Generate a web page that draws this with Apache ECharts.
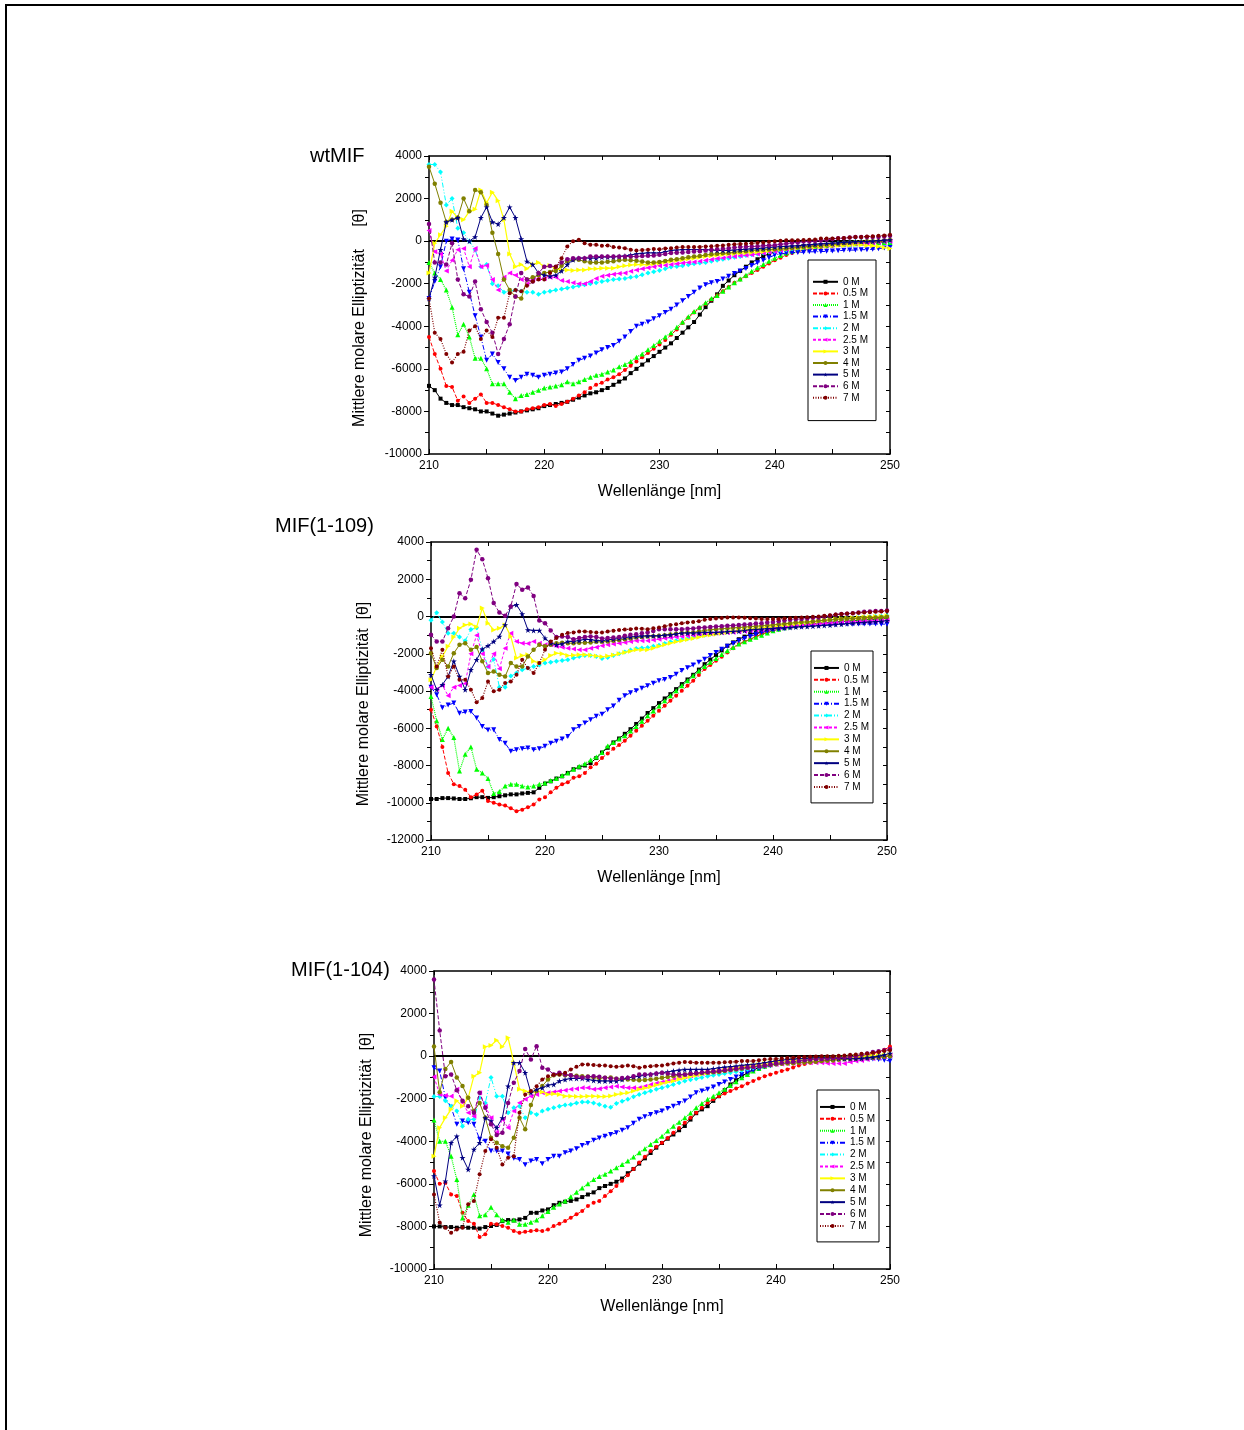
<!DOCTYPE html>
<html><head><meta charset="utf-8">
<script src="https://cdn.jsdelivr.net/npm/echarts@6/dist/echarts.min.js"></script>
<style>html,body{margin:0;padding:0;background:#fff}#c{width:1244px;height:1430px}</style>
</head><body><div id="c"></div>
<script>
const wavelengths = [210,210.5,211,211.5,212,212.5,213,213.5,214,214.5,215,215.5,216,216.5,217,217.5,218,218.5,219,219.5,220,220.5,221,221.5,222,222.5,223,223.5,224,224.5,225,225.5,226,226.5,227,227.5,228,228.5,229,229.5,230,230.5,231,231.5,232,232.5,233,233.5,234,234.5,235,235.5,236,236.5,237,237.5,238,238.5,239,239.5,240,240.5,241,241.5,242,242.5,243,243.5,244,244.5,245,245.5,246,246.5,247,247.5,248,248.5,249,249.5,250];
const concLabels = ['0 M','0.5 M','1 M','1.5 M','2 M','2.5 M','3 M','4 M','5 M','6 M','7 M'];
const panelTitles = ['wtMIF','MIF(1-109)','MIF(1-104)'];
const xAxisName = 'Wellenlänge [nm]';
const yAxisNames = ['Mittlere molare Elliptizität     [θ]','Mittlere molare Elliptizität  [θ]','Mittlere molare Elliptizität  [θ]'];
const yMins = [-10000,-12000,-10000];
const yMax = 4000;

// ---- wtMIF ----
const wt_0M = [-6800,-7000,-7400,-7600,-7700,-7700,-7800,-7850,-7900,-8000,
-8000,-8100,-8200,-8150,-8100,-8050,-8000,-7950,-7900,-7850,
-7750,-7700,-7650,-7600,-7550,-7450,-7350,-7250,-7150,-7100,
-7000,-6900,-6750,-6600,-6450,-6200,-6000,-5800,-5600,-5400,
-5200,-5000,-4800,-4550,-4300,-4050,-3800,-3450,-3100,-2800,
-2500,-2100,-1850,-1600,-1400,-1200,-1000,-850,-700,-600,
-500,-420,-360,-310,-270,-240,-220,-200,-190,-180,
-170,-150,-140,-120,-110,-90,-80,-60,-50,-30,
-20];
const wt_05M = [-4500,-5300,-6000,-6800,-6850,-7500,-7300,-7600,-7400,-7200,
-7600,-7600,-7700,-7800,-7900,-8000,-8000,-7900,-7850,-7800,
-7700,-7650,-7750,-7650,-7550,-7400,-7250,-7100,-6900,-6750,
-6650,-6500,-6400,-6250,-6050,-5850,-5650,-5450,-5250,-5050,
-4850,-4650,-4400,-4150,-3850,-3600,-3350,-3150,-2950,-2750,
-2550,-2350,-2150,-1950,-1800,-1650,-1500,-1350,-1200,-1050,
-900,-780,-650,-560,-490,-430,-380,-330,-280,-250,
-220,-190,-160,-130,-100,-80,-50,-30,-10,0,
20];
const wt_1M = [-1000,-1500,-1800,-2300,-3100,-4400,-3900,-4500,-5500,-5500,
-6000,-6700,-6700,-6700,-7100,-7400,-7250,-7200,-7100,-7000,
-6900,-6850,-6800,-6750,-6600,-6700,-6600,-6500,-6400,-6300,
-6250,-6150,-6050,-5900,-5800,-5650,-5450,-5300,-5100,-4900,
-4700,-4500,-4300,-4050,-3800,-3550,-3300,-3100,-2900,-2700,
-2550,-2350,-2150,-1950,-1780,-1600,-1420,-1250,-1100,-950,
-800,-680,-560,-470,-400,-340,-280,-250,-220,-190,
-170,-150,-140,-130,-120,-100,-100,-80,-70,-60,
-60];
const wt_15M = [-2700,-1900,-1200,0,100,50,-1300,-2400,-3500,-4500,
-5600,-5300,-5700,-6000,-6400,-6550,-6400,-6250,-6300,-6400,
-6300,-6250,-6200,-6150,-6000,-5800,-5600,-5500,-5400,-5250,
-5100,-5000,-4900,-4700,-4500,-4250,-4000,-3900,-3800,-3650,
-3500,-3350,-3200,-3000,-2800,-2600,-2400,-2200,-2050,-1950,
-1900,-1780,-1650,-1520,-1400,-1280,-1150,-1020,-900,-780,
-650,-600,-560,-540,-530,-520,-500,-500,-490,-480,
-460,-450,-430,-420,-420,-400,-400,-380,-360,-320,
-300];
const wt_2M = [3600,3600,3250,1700,2000,600,400,0,-400,-1200,
-1100,-2000,-2100,-2400,-2350,-2300,-2350,-2400,-2400,-2500,
-2400,-2350,-2300,-2250,-2200,-2150,-2100,-2050,-2000,-1950,
-1900,-1850,-1800,-1780,-1750,-1700,-1660,-1580,-1500,-1440,
-1380,-1300,-1220,-1190,-1160,-1110,-1060,-1030,-1000,-950,
-900,-850,-800,-760,-720,-680,-640,-600,-560,-520,
-490,-440,-400,-360,-330,-300,-280,-250,-220,-170,
-130,-100,-70,-50,-20,-20,-20,-10,0,0,
0];
const wt_25M = [500,-500,-600,-1400,-900,-400,-350,-1200,-350,-1200,
-1150,-1800,-2300,-1700,-1500,-1600,-1800,-2000,-1800,-1750,
-1750,-1700,-1700,-1850,-1900,-1950,-2000,-2000,-1900,-1750,
-1650,-1600,-1550,-1520,-1500,-1420,-1350,-1300,-1250,-1200,
-1160,-1130,-1100,-1060,-1030,-1000,-980,-950,-900,-860,
-820,-790,-750,-720,-690,-660,-640,-600,-560,-520,
-490,-430,-380,-330,-290,-270,-250,-230,-210,-190,
-170,-160,-150,-130,-120,-110,-100,-80,-50,-30,
0];
const wt_3M = [-1500,-100,300,700,1400,1100,1000,1400,1500,2400,
1800,2300,1900,1000,-600,-1200,-1100,-1300,-1100,-1000,
-1200,-1150,-1300,-1350,-1350,-1380,-1350,-1350,-1300,-1300,
-1270,-1270,-1270,-1200,-1160,-1120,-1100,-1100,-1100,-1060,
-1030,-990,-950,-910,-880,-840,-800,-760,-720,-690,
-660,-630,-600,-580,-560,-540,-530,-510,-490,-450,
-400,-380,-370,-350,-330,-310,-290,-270,-250,-230,
-200,-200,-200,-180,-150,-170,-200,-220,-250,-300,
-350];
const wt_4M = [3500,2700,1800,900,1000,1100,2000,1400,2400,2300,
1700,400,-600,-1800,-2300,-2600,-2700,-1800,-1700,-1600,
-1500,-1450,-1400,-1160,-950,-880,-880,-950,-1000,-1000,
-1000,-970,-950,-900,-880,-900,-920,-960,-1000,-1000,
-980,-930,-880,-850,-800,-760,-720,-700,-650,-620,
-590,-570,-560,-520,-490,-470,-440,-420,-400,-390,
-380,-360,-350,-320,-300,-270,-250,-220,-200,-170,
-150,-120,-100,-80,-50,-30,0,0,0,30,
50];
const wt_5M = [-2700,-1700,-400,900,1000,1100,100,0,200,1100,
1600,900,800,1100,1600,1100,100,-950,-1100,-1500,
-1600,-1650,-1600,-1400,-1100,-880,-800,-800,-800,-800,
-750,-750,-750,-720,-700,-650,-600,-580,-550,-560,
-560,-500,-440,-420,-400,-400,-400,-400,-400,-420,
-440,-440,-440,-420,-400,-380,-370,-350,-330,-300,
-280,-260,-250,-230,-220,-190,-170,-150,-130,-110,
-100,-80,-60,-50,-30,-20,-20,0,20,40,
60];
const wt_6M = [800,-1000,-1000,-1100,-100,-1800,-2500,-2600,-1900,-3200,
-3800,-4300,-5300,-4600,-3900,-2600,-1500,-1800,-1900,-1500,
-1200,-1170,-1200,-1000,-850,-800,-800,-800,-720,-720,
-720,-720,-720,-720,-720,-720,-720,-700,-690,-670,
-640,-600,-560,-540,-530,-510,-490,-470,-440,-410,
-380,-360,-330,-300,-280,-260,-250,-240,-220,-200,
-190,-150,-120,-80,-60,-20,-20,10,30,60,
100,140,140,170,190,190,190,200,200,220,
250];
const wt_7M = [-2700,-4300,-4600,-5300,-5700,-5300,-5200,-4200,-4000,-4600,
-4200,-4500,-3600,-3600,-2450,-2300,-2350,-2100,-1900,-1800,
-1800,-1500,-1200,-800,-250,0,60,-100,-170,-170,
-220,-200,-280,-300,-330,-400,-440,-420,-400,-370,
-380,-350,-330,-300,-280,-280,-280,-270,-250,-240,
-220,-200,-170,-150,-130,-120,-100,-80,-60,-30,
0,20,40,40,40,50,60,80,120,120,
130,140,150,170,190,200,220,230,250,270,
300];

// ---- MIF(1-109) ----
const m109_0M = [-9800,-9800,-9750,-9750,-9770,-9800,-9800,-9760,-9700,-9700,
-9740,-9700,-9650,-9600,-9550,-9550,-9500,-9470,-9440,-9200,
-8970,-8850,-8700,-8580,-8400,-8200,-8100,-8000,-7870,-7600,
-7300,-7050,-6760,-6550,-6300,-6050,-5770,-5480,-5180,-4920,
-4650,-4400,-4170,-3900,-3630,-3380,-3130,-2850,-2560,-2310,
-2070,-1820,-1570,-1390,-1220,-1080,-950,-880,-820,-750,
-680,-610,-550,-520,-500,-460,-430,-400,-360,-340,
-320,-290,-270,-250,-230,-200,-180,-160,-140,-120,
-110];
const m109_05M = [-5000,-5900,-7000,-8400,-9000,-9100,-9300,-9700,-9560,-9350,
-9900,-10000,-10100,-10150,-10300,-10450,-10370,-10240,-10100,-9830,
-9700,-9440,-9200,-9000,-8900,-8660,-8580,-8400,-8100,-7900,
-7600,-7350,-7100,-6900,-6670,-6400,-6130,-5870,-5600,-5330,
-5060,-4790,-4520,-4250,-3990,-3720,-3450,-3140,-2820,-2600,
-2380,-2160,-1930,-1700,-1480,-1350,-1220,-1080,-950,-860,
-770,-680,-590,-540,-500,-450,-410,-390,-360,-340,
-320,-280,-250,-220,-190,-160,-140,-120,-100,-80,
-70];
const m109_1M = [-4300,-5600,-6600,-6000,-6500,-8300,-7400,-7000,-8200,-8400,
-8700,-9500,-9400,-9100,-9000,-9000,-9100,-9150,-9100,-9000,
-8940,-8800,-8700,-8540,-8400,-8200,-8040,-7900,-7700,-7540,
-7300,-6950,-6760,-6580,-6400,-6150,-5900,-5620,-5330,-5070,
-4800,-4520,-4250,-3990,-3720,-3450,-3180,-2930,-2680,-2460,
-2250,-2040,-1840,-1660,-1480,-1350,-1220,-1110,-1000,-880,
-770,-680,-600,-550,-500,-460,-430,-400,-370,-340,
-320,-300,-270,-250,-220,-200,-180,-160,-130,-110,
-90];
const m109_15M = [-3800,-4200,-4900,-4750,-4650,-5200,-5130,-5100,-5450,-5900,
-6100,-6080,-6600,-6800,-7240,-7150,-7100,-7060,-7150,-7100,
-6970,-6800,-6700,-6580,-6440,-6080,-5900,-5720,-5540,-5360,
-5250,-5000,-4800,-4500,-4250,-4100,-3990,-3850,-3720,-3590,
-3450,-3380,-3270,-3100,-2900,-2750,-2600,-2450,-2290,-2100,
-1930,-1760,-1600,-1450,-1300,-1180,-1070,-960,-860,-790,
-720,-680,-640,-590,-540,-520,-500,-480,-460,-460,
-460,-440,-420,-420,-420,-400,-400,-400,-400,-410,
-410];
const m109_2M = [-200,200,-300,-900,-900,-1100,-1300,-700,-600,-1800,
-2700,-2300,-3800,-3800,-3200,-3040,-2860,-2770,-2680,-2600,
-2500,-2450,-2400,-2360,-2320,-2230,-2150,-2100,-2100,-2150,
-2250,-2200,-2100,-2000,-1900,-1800,-1720,-1690,-1660,-1600,
-1540,-1450,-1360,-1300,-1250,-1190,-1130,-1060,-1000,-950,
-890,-850,-820,-790,-770,-720,-680,-640,-620,-600,
-590,-540,-500,-450,-410,-380,-350,-310,-280,-240,
-210,-180,-150,-120,-100,-70,-50,-20,0,20,
40];
const m109_25M = [-3800,-3900,-3700,-4250,-3800,-3700,-3600,-2000,-1000,-2000,
-2700,-2000,-2800,-1700,-900,-1340,-1430,-1450,-1340,-1430,
-1520,-1520,-1600,-1650,-1700,-1750,-1790,-1790,-1700,-1650,
-1570,-1520,-1480,-1430,-1390,-1340,-1300,-1300,-1300,-1260,
-1220,-1170,-1130,-1100,-1070,-1030,-1000,-970,-950,-920,
-890,-870,-860,-840,-820,-790,-770,-740,-720,-680,
-640,-600,-570,-540,-500,-480,-460,-430,-410,-380,
-360,-340,-320,-300,-290,-270,-250,-240,-220,-200,
-180];
const m109_3M = [-3400,-2700,-2150,-1600,-1100,-630,-450,-400,-570,450,
-360,-720,-630,-450,-1070,-2230,-2100,-2060,-2400,-2500,
-2320,-2100,-1970,-2000,-2100,-2080,-2050,-2050,-2080,-2120,
-2160,-2120,-2070,-2000,-1930,-1860,-1790,-1790,-1790,-1700,
-1600,-1520,-1430,-1360,-1300,-1240,-1180,-1110,-1040,-990,
-950,-900,-860,-810,-770,-720,-680,-640,-610,-570,
-540,-500,-460,-430,-390,-360,-320,-290,-250,-220,
-180,-140,-110,-90,-70,-50,-30,-10,0,20,
40];
const m109_4M = [-1970,-2770,-2320,-2680,-1970,-1520,-1430,-1790,-1640,-2400,
-3040,-2950,-3130,-3220,-2500,-2680,-2680,-2150,-1790,-1520,
-1600,-1520,-1430,-1410,-1430,-1430,-1410,-1410,-1390,-1360,
-1360,-1340,-1300,-1260,-1220,-1180,-1130,-1100,-1070,-1060,
-1040,-1000,-970,-930,-890,-860,-860,-800,-750,-710,
-680,-660,-640,-610,-590,-570,-540,-520,-500,-480,
-450,-420,-390,-360,-320,-300,-290,-270,-230,-200,
-180,-150,-140,-120,-110,-90,-70,-50,-50,-40,
-20];
const m109_5M = [-3130,-3930,-3660,-3220,-2400,-3220,-3930,-2860,-2320,-1750,
-1570,-1340,-1070,-450,540,630,140,-720,-750,-750,
-1160,-1430,-1520,-1470,-1340,-1340,-1290,-1220,-1250,-1290,
-1300,-1250,-1220,-1180,-1130,-1100,-1070,-1050,-1040,-1040,
-1040,-1000,-990,-940,-890,-890,-890,-880,-860,-860,
-860,-840,-820,-800,-790,-750,-720,-700,-680,-660,
-640,-620,-610,-590,-570,-550,-540,-520,-500,-480,
-460,-430,-410,-380,-360,-330,-320,-300,-280,-260,
-230];
const m109_6M = [-980,-1340,-1340,-630,0,1250,980,1970,3580,3070,
2060,720,210,40,540,1750,1430,1560,1100,-210,
-360,-750,-1100,-1070,-1100,-1220,-1160,-1100,-1070,-1100,
-1180,-1150,-1130,-1100,-1040,-980,-950,-900,-860,-780,
-680,-680,-680,-680,-680,-660,-640,-610,-590,-560,
-540,-520,-500,-480,-460,-430,-410,-380,-360,-320,
-290,-250,-220,-180,-150,-130,-110,-70,-50,0,
40,100,130,150,180,220,250,270,290,300,
320];
const m109_7M = [-1700,-2680,-1790,-3220,-2680,-3400,-3400,-3930,-4600,-4380,
-3490,-4020,-3930,-3570,-3490,-3130,-2320,-2770,-3040,-2500,
-1790,-1340,-1160,-980,-890,-860,-800,-800,-830,-860,
-860,-800,-770,-720,-700,-680,-640,-660,-680,-630,
-590,-520,-460,-410,-360,-320,-290,-250,-180,-140,
-110,-80,-50,-50,-50,-70,-90,-110,-140,-140,
-140,-130,-110,-90,-70,-50,-40,-20,0,40,
70,110,130,160,180,200,210,230,250,270,
290];

// ---- MIF(1-104) ----
const m104_0M = [-8000,-8000,-8030,-8030,-8060,-8030,-8060,-8060,-8100,-8030,
-7980,-7930,-7750,-7700,-7720,-7670,-7600,-7360,-7360,-7250,
-7200,-7000,-6890,-6840,-6800,-6730,-6620,-6500,-6400,-6200,
-6100,-6000,-5900,-5750,-5500,-5300,-5050,-4800,-4550,-4300,
-4080,-3880,-3680,-3480,-3280,-2980,-2680,-2500,-2350,-2100,
-1880,-1600,-1330,-1130,-940,-780,-630,-550,-470,-400,
-340,-280,-230,-190,-160,-120,-90,-80,-80,-70,
-60,-60,-50,-50,-50,-40,-30,-20,0,10,
30];
const m104_05M = [-5400,-6000,-5950,-6500,-6570,-7360,-7750,-7870,-8500,-8370,
-7870,-7900,-7980,-8060,-8220,-8300,-8250,-8220,-8180,-8220,
-8140,-7980,-7870,-7750,-7590,-7430,-7280,-7040,-6890,-6800,
-6570,-6350,-6100,-5850,-5600,-5300,-5000,-4730,-4460,-4260,
-4070,-3840,-3600,-3370,-3130,-2900,-2660,-2420,-2190,-2030,
-1880,-1760,-1640,-1520,-1410,-1290,-1170,-1050,-940,-860,
-780,-700,-630,-530,-440,-370,-310,-270,-230,-190,
-160,-140,-120,-100,-80,-20,40,100,200,300,
450];
const m104_1M = [-3000,-4000,-4000,-4700,-5800,-7600,-7000,-6500,-7500,-7450,
-7100,-7450,-7700,-7800,-7700,-7900,-7900,-7800,-7700,-7500,
-7300,-7100,-6950,-6800,-6600,-6400,-6200,-6000,-5800,-5650,
-5550,-5400,-5240,-5090,-4930,-4740,-4540,-4350,-4150,-3960,
-3760,-3520,-3290,-3100,-2900,-2670,-2430,-2230,-2030,-1880,
-1720,-1550,-1380,-1200,-1020,-860,-700,-580,-470,-400,
-340,-280,-230,-190,-160,-120,-90,-80,-60,-40,
-30,-30,-30,-20,0,0,0,20,30,60,
90];
const m104_15M = [-550,-700,-1960,-2400,-3200,-3050,-3130,-3200,-3900,-4000,
-4460,-4460,-4460,-4600,-4800,-4850,-5100,-4930,-4850,-5050,
-4850,-4700,-4700,-4540,-4460,-4350,-4200,-4100,-3950,-3850,
-3760,-3680,-3600,-3480,-3360,-3150,-2970,-2850,-2740,-2660,
-2580,-2460,-2350,-2230,-2110,-1920,-1720,-1640,-1560,-1450,
-1330,-1210,-1100,-980,-860,-760,-660,-580,-500,-450,
-390,-350,-310,-270,-230,-210,-190,-170,-160,-140,
-130,-130,-130,-130,-130,-130,-130,-140,-160,-190,
-230];
const m104_2M = [-1900,-1900,-2100,-2350,-2580,-3290,-2970,-2970,-1960,-2200,
-1000,-1880,-1880,-2660,-2430,-2350,-2900,-2660,-2740,-2580,
-2500,-2430,-2350,-2300,-2270,-2200,-2160,-2160,-2200,-2270,
-2350,-2400,-2220,-2120,-2030,-1910,-1800,-1720,-1640,-1560,
-1490,-1410,-1330,-1250,-1170,-1110,-1060,-1000,-940,-900,
-860,-820,-780,-730,-670,-610,-550,-500,-440,-390,
-340,-290,-230,-200,-190,-170,-160,-140,-130,-110,
-90,-80,-60,-50,-30,-20,0,0,0,0,
0];
const m104_25M = [-970,-1800,-1850,-1880,-1560,-2190,-2660,-2820,-1720,-2350,
-2900,-3600,-2970,-3360,-2580,-2190,-2030,-1880,-1800,-1720,
-1720,-1680,-1640,-1600,-1560,-1530,-1490,-1490,-1560,-1530,
-1490,-1450,-1410,-1450,-1490,-1490,-1490,-1410,-1330,-1270,
-1220,-1160,-1100,-1030,-970,-920,-860,-820,-780,-740,
-700,-660,-630,-590,-550,-530,-500,-470,-440,-410,
-390,-370,-340,-330,-310,-310,-310,-310,-310,-330,
-340,-340,-340,-280,-230,-200,-160,-110,-80,-30,
30];
const m104_3M = [-4700,-3360,-2900,-2500,-2100,-2350,-1960,-940,-780,440,
500,750,440,860,-310,-1560,-1640,-1720,-1640,-1680,
-1800,-1770,-1800,-1880,-1880,-1900,-1900,-1880,-1880,-1900,
-1900,-1870,-1800,-1760,-1720,-1640,-1560,-1500,-1440,-1360,
-1280,-1220,-1170,-1090,-1020,-960,-910,-850,-780,-740,
-700,-640,-590,-550,-500,-470,-440,-390,-340,-310,
-280,-250,-230,-200,-190,-170,-160,-140,-130,-110,
-90,-80,-60,-50,-30,-20,0,20,30,50,
80];
const m104_4M = [450,-1700,-600,-270,-1000,-1400,-1960,-2580,-2200,-2900,
-3830,-4070,-4230,-4300,-3830,-2900,-3440,-2300,-1640,-1400,
-1100,-900,-860,-900,-900,-920,-940,-960,-1000,-1040,
-1020,-1000,-1060,-1080,-1100,-1110,-1130,-1120,-1100,-1060,
-1020,-980,-940,-900,-860,-830,-810,-790,-780,-760,
-750,-700,-660,-630,-590,-550,-500,-470,-440,-410,
-380,-360,-340,-330,-310,-300,-280,-260,-230,-220,
-200,-170,-150,-130,-120,-100,-90,-70,-60,-30,
0];
const m104_5M = [-5630,-7000,-5870,-4070,-3760,-4770,-5320,-4380,-4070,-2900,
-3050,-3360,-2900,-1410,-310,-310,-780,-1720,-1560,-1490,
-1360,-1330,-1170,-1100,-1050,-1050,-1050,-1100,-1140,-1170,
-1170,-1170,-1170,-1100,-1020,-980,-940,-900,-860,-820,
-780,-740,-700,-660,-630,-630,-630,-630,-630,-590,
-550,-520,-500,-470,-440,-410,-390,-350,-310,-270,
-230,-190,-160,-140,-120,-110,-90,-80,-80,-80,
-90,-110,-120,-120,-120,-110,-80,-50,0,60,
130];
const m104_6M = [3600,1200,-940,-860,-1600,-2100,-2350,-2660,-1720,-2430,
-3200,-3700,-3600,-2200,-1250,-700,340,-160,470,-550,
-630,-860,-780,-860,-900,-970,-1000,-970,-940,-970,
-1020,-1050,-1060,-1030,-1020,-940,-860,-860,-860,-820,
-780,-820,-860,-860,-860,-830,-800,-770,-750,-720,
-700,-660,-630,-590,-550,-530,-500,-470,-440,-390,
-340,-310,-280,-260,-230,-190,-160,-140,-130,-110,
-90,-80,-60,-30,0,60,130,190,230,280,
340];
const m104_7M = [-6500,-7820,-8060,-8300,-8140,-8060,-6960,-6800,-5550,-4460,
-3900,-4300,-5090,-4770,-4700,-2660,-1800,-1640,-1410,-1100,
-940,-880,-860,-780,-630,-500,-390,-390,-420,-440,
-440,-470,-500,-470,-440,-470,-550,-500,-470,-450,
-440,-390,-340,-310,-280,-290,-310,-310,-310,-310,
-310,-290,-280,-260,-230,-230,-230,-190,-160,-140,
-130,-110,-90,-70,-50,-40,-30,-20,0,0,
0,20,30,60,80,110,130,160,200,240,
280];

const panelSeries = [
  [wt_0M, wt_05M, wt_1M, wt_15M, wt_2M, wt_25M, wt_3M, wt_4M, wt_5M, wt_6M, wt_7M],
  [m109_0M, m109_05M, m109_1M, m109_15M, m109_2M, m109_25M, m109_3M, m109_4M, m109_5M, m109_6M, m109_7M],
  [m104_0M, m104_05M, m104_1M, m104_15M, m104_2M, m104_25M, m104_3M, m104_4M, m104_5M, m104_6M, m104_7M]
];

// ---------- styles / layout ----------
const FONT = '"Liberation Sans", Arial, sans-serif';
const STAR = 'path://M50,0 L61,35 L98,35 L68,57 L79,91 L50,70 L21,91 L32,57 L2,35 L39,35 Z';
const STYLES = [
  {color:'#000000', type:'solid', width:1, symbol:'rect', size:4, rot:0},
  {color:'#ff0000', type:[4,2], width:1, symbol:'circle', size:4, rot:0},
  {color:'#00ff00', type:[1,1], width:1.2, symbol:'triangle', size:5, rot:0},
  {color:'#0000ff', type:[5,2,1,2], width:1, symbol:'triangle', size:5, rot:180},
  {color:'#00ffff', type:[5,2,1,2,1,2], width:1, symbol:'diamond', size:5, rot:0},
  {color:'#ff00ff', type:[3,2], width:1, symbol:'triangle', size:5, rot:90},
  {color:'#ffff00', type:'solid', width:1.2, symbol:'triangle', size:5, rot:-90},
  {color:'#808000', type:'solid', width:1, symbol:'circle', size:4.5, rot:0},
  {color:'#000080', type:'solid', width:1, symbol:STAR, size:6, rot:0},
  {color:'#800080', type:[4,2], width:1, symbol:'circle', size:4.5, rot:0},
  {color:'#800000', type:[1,1.5], width:1.2, symbol:'circle', size:4, rot:0}
];
const GRIDS = [
  {left:429, top:156, width:461, height:298},
  {left:431, top:542, width:456, height:298},
  {left:434, top:971, width:456, height:298}
];
const LEGENDS = [
  {left:808, top:260, padding:[16,8,17,4], lh:11.6},
  {left:811, top:651, padding:[11,4,10,2], lh:11.9},
  {left:817, top:1090, padding:[11,4,10,2], lh:11.9}
];
const TITLES = [{x:310,y:156},{x:275,y:526},{x:291,y:970}];
const YNAMES = [{x:360,y:318},{x:364,y:704},{x:367,y:1135}];
const plain = v => String(v);

const xAxes = [], yAxes = [], series = [], legends = [], graphics = [];
for (let p = 0; p < 3; p++) {
  const axLine = {show:true, onZero:false, lineStyle:{color:'#000', width:1.5}};
  xAxes.push({type:'value', gridIndex:p, position:'bottom', min:210, max:250, interval:10,
    axisLine:axLine, splitLine:{show:false},
    axisTick:{show:true, inside:true, length:5, lineStyle:{color:'#000', width:1}},
    minorTick:{show:true, splitNumber:2, length:5, lineStyle:{color:'#000', width:1}},
    axisLabel:{fontSize:12, color:'#000', margin:6, fontFamily:FONT, formatter:plain},
    name:xAxisName, nameLocation:'middle', nameGap:30,
    nameTextStyle:{fontSize:16, color:'#000', fontFamily:FONT}});
  xAxes.push({type:'value', gridIndex:p, position:'top', min:210, max:250, interval:10,
    axisLine:axLine, splitLine:{show:false}, axisLabel:{show:false},
    axisTick:{show:true, inside:true, length:4, lineStyle:{color:'#000'}},
    minorTick:{show:true, splitNumber:2, length:4, lineStyle:{color:'#000'}}});
  yAxes.push({type:'value', gridIndex:p, position:'left', min:yMins[p], max:yMax, interval:2000,
    axisLine:axLine, splitLine:{show:false},
    axisTick:{show:true, inside:false, length:5, lineStyle:{color:'#000', width:1}},
    minorTick:{show:true, splitNumber:2, length:4, lineStyle:{color:'#000', width:1}},
    axisLabel:{fontSize:12, color:'#000', margin:7, fontFamily:FONT, formatter:plain}});
  yAxes.push({type:'value', gridIndex:p, position:'right', min:yMins[p], max:yMax, interval:2000,
    axisLine:axLine, splitLine:{show:false}, axisLabel:{show:false},
    axisTick:{show:true, inside:true, length:4, lineStyle:{color:'#000'}},
    minorTick:{show:true, splitNumber:2, length:4, lineStyle:{color:'#000'}}});

  panelSeries[p].forEach((vals, k) => {
    const st = STYLES[k];
    const s = {
      type:'line', name:concLabels[k], xAxisIndex:2*p, yAxisIndex:2*p,
      data: wavelengths.map((w, i) => [w, vals[i]]),
      symbol:st.symbol, symbolSize:st.size, symbolRotate:st.rot, showSymbol:true,
      lineStyle:{color:st.color, width:st.width, type:st.type},
      itemStyle:{color:st.color, borderWidth:0},
      emphasis:{disabled:true}, silent:true, z:2+k
    };
    if (k === 0) {
      s.markLine = {silent:true, symbol:'none', label:{show:false},
        lineStyle:{color:'#000', width:2, type:'solid'}, emphasis:{disabled:true},
        data:[{yAxis:0}], z:1};
    }
    series.push(s);
  });

  const L = LEGENDS[p];
  legends.push({data:concLabels, orient:'vertical', left:L.left, top:L.top, padding:L.padding,
    itemWidth:25, itemHeight:5, itemGap:0, itemTextGap:4, selectedMode:false,
    borderColor:'#000', borderWidth:1, backgroundColor:'#fff',
    textStyle:{fontSize:10, lineHeight:L.lh, color:'#000', fontFamily:FONT}});

  graphics.push({type:'text', x:TITLES[p].x, y:TITLES[p].y,
    style:{text:panelTitles[p], font:'20px ' + FONT, fill:'#000', align:'left', verticalAlign:'middle', textAlign:'left', textVerticalAlign:'middle'}});
  graphics.push({type:'text', x:YNAMES[p].x, y:YNAMES[p].y, rotation:Math.PI/2,
    style:{text:yAxisNames[p], font:'16px ' + FONT, fill:'#000', align:'center', verticalAlign:'middle', textAlign:'center', textVerticalAlign:'middle'}});
}
// page frame
graphics.push({type:'line', shape:{x1:5, y1:5, x2:1244, y2:5}, style:{stroke:'#000', lineWidth:2}});
graphics.push({type:'line', shape:{x1:6, y1:5, x2:6, y2:1430}, style:{stroke:'#000', lineWidth:2}});

const chart = echarts.init(document.getElementById('c'), null, {renderer:'canvas'});
chart.setOption({
  animation:false,
  backgroundColor:'#fff',
  textStyle:{fontFamily:FONT},
  grid:GRIDS,
  xAxis:xAxes, yAxis:yAxes,
  legend:legends,
  series:series,
  graphic:graphics
});
</script></body></html>
